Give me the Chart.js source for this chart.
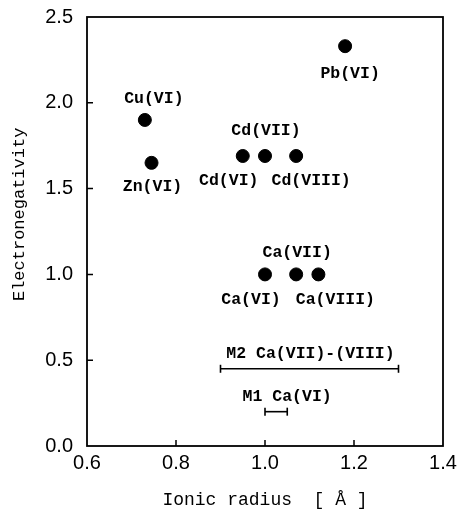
<!DOCTYPE html>
<html lang="en">
    <head>
        <meta charset="UTF-8" />
        <title>Electronegativity vs ionic radius</title>
        <script src="https://cdn.jsdelivr.net/npm/chart.js"></script>
        <style>
            html, body { margin: 0; padding: 0; background: #fff; }
            #wrap { width: 460px; height: 517px; }
        </style>
    </head>
    <body>
        <div id="wrap"><canvas id="ionChart"></canvas></div>

        <script>
            // ions: ionic radius (Å) and electronegativity
            const ionNames = ["Cu(VI)", "Zn(VI)", "Pb(VI)", "Cd(VI)", "Cd(VII)", "Cd(VIII)", "Ca(VI)", "Ca(VII)", "Ca(VIII)"];
            const ionRadius = [0.73, 0.745, 1.18, 0.95, 1.0, 1.07, 1.0, 1.07, 1.12];
            const ionElectroneg = [1.90, 1.65, 2.33, 1.69, 1.69, 1.69, 1.0, 1.0, 1.0];

            // site radius ranges
            const siteNames = ["M2 Ca(VII)-(VIII)", "M1 Ca(VI)"];
            const siteFrom = [0.9, 1.0];
            const siteTo = [1.3, 1.05];
            const siteLevel = [0.45, 0.2];

            const xTicks = [0.6, 0.8, 1.0, 1.2, 1.4];
            const yTicks = [0.0, 0.5, 1.0, 1.5, 2.0, 2.5];

            // where each label sits relative to its mark, in px
            const labelOffset = {
                "Cu(VI)": [9, -21],
                "Zn(VI)": [1, 24],
                "Pb(VI)": [5, 28],
                "Cd(VI)": [-14, 25],
                "Cd(VII)": [1, -25],
                "Cd(VIII)": [15, 25],
                "Ca(VI)": [-14, 25],
                "Ca(VII)": [1, -22],
                "Ca(VIII)": [17, 25],
                "M2 Ca(VII)-(VIII)": [1, -15],
                "M1 Ca(VI)": [11, -15],
            };

            const labelFont = "bold 16.5px 'Liberation Mono', monospace";
            const titleFamily = "'Liberation Mono', monospace";
            const tickFamily = "'Liberation Sans', Arial, sans-serif";

            const points = ionRadius.map((r, i) => ({ x: r, y: ionElectroneg[i] }));

            const siteSets = siteNames.map((name, i) => ({
                type: "line",
                label: name,
                data: [
                    { x: siteFrom[i], y: siteLevel[i] },
                    { x: siteTo[i], y: siteLevel[i] },
                ],
                borderColor: "#000",
                borderWidth: 1.6,
                pointStyle: "line",
                rotation: 90,
                pointRadius: 4,
                pointBorderColor: "#000",
                pointBorderWidth: 1.6,
                showLine: true,
            }));

            // frame, inward ticks, y title and text labels
            const framePlugin = {
                id: "frame",
                afterDatasetsDraw(chart) {
                    const { ctx, chartArea: a, scales } = chart;
                    ctx.save();
                    ctx.strokeStyle = "#000";
                    ctx.lineWidth = 1.8;
                    ctx.strokeRect(a.left, a.top, a.right - a.left, a.bottom - a.top);

                    ctx.lineWidth = 1.5;
                    ctx.beginPath();
                    xTicks.slice(1, -1).forEach((v) => {
                        const px = scales.x.getPixelForValue(v);
                        ctx.moveTo(px, a.bottom);
                        ctx.lineTo(px, a.bottom - 6);
                    });
                    yTicks.slice(1, -1).forEach((v) => {
                        const py = scales.y.getPixelForValue(v);
                        ctx.moveTo(a.left, py);
                        ctx.lineTo(a.left + 6, py);
                    });
                    ctx.stroke();

                    ctx.fillStyle = "#000";
                    ctx.font = labelFont;
                    ctx.textAlign = "center";
                    ctx.textBaseline = "middle";
                    ionNames.forEach((name, i) => {
                        const off = labelOffset[name];
                        const px = scales.x.getPixelForValue(ionRadius[i]);
                        const py = scales.y.getPixelForValue(ionElectroneg[i]);
                        ctx.fillText(name, px + off[0], py + off[1]);
                    });
                    siteNames.forEach((name, i) => {
                        const off = labelOffset[name];
                        const px = scales.x.getPixelForValue((siteFrom[i] + siteTo[i]) / 2);
                        const py = scales.y.getPixelForValue(siteLevel[i]);
                        ctx.fillText(name, px + off[0], py + off[1]);
                    });

                    // y axis title, set a little above the middle as in the original
                    ctx.font = "17px " + titleFamily;
                    ctx.translate(19, scales.y.getPixelForValue(1.35));
                    ctx.rotate(-Math.PI / 2);
                    ctx.fillText("Electronegativity", 0, 0);
                    ctx.restore();
                },
            };

            new Chart(document.getElementById("ionChart"), {
                type: "scatter",
                data: {
                    datasets: [
                        {
                            label: "ions",
                            data: points,
                            backgroundColor: "#000",
                            borderColor: "#000",
                            pointRadius: 6.5,
                            pointHoverRadius: 6.5,
                        },
                        ...siteSets,
                    ],
                },
                options: {
                    responsive: true,
                    maintainAspectRatio: false,
                    animation: false,
                    events: [],
                    layout: { padding: { top: 17, right: 17, left: 0, bottom: 0 } },
                    plugins: {
                        legend: { display: false },
                        tooltip: { enabled: false },
                    },
                    scales: {
                        x: {
                            type: "linear",
                            min: 0.6,
                            max: 1.4,
                            afterFit: (s) => {
                                s.height = 71;
                                s.paddingLeft = 0;
                                s.paddingRight = 0;
                            },
                            afterBuildTicks: (s) => { s.ticks = xTicks.map((v) => ({ value: v })); },
                            grid: { display: false, drawTicks: false },
                            border: { display: false },
                            ticks: {
                                color: "#000",
                                padding: 5,
                                font: { family: tickFamily, size: 20 },
                                callback: (v) => v.toFixed(1),
                            },
                            title: {
                                display: true,
                                text: "Ionic radius  [ Å ]",
                                color: "#000",
                                font: { family: titleFamily, size: 18 },
                                padding: { top: 0, bottom: 6 },
                            },
                        },
                        y: {
                            type: "linear",
                            min: 0,
                            max: 2.5,
                            afterFit: (s) => {
                                s.width = 87;
                                s.paddingTop = 0;
                                s.paddingBottom = 0;
                            },
                            afterBuildTicks: (s) => { s.ticks = yTicks.map((v) => ({ value: v })); },
                            grid: { display: false, drawTicks: false },
                            border: { display: false },
                            ticks: {
                                color: "#000",
                                padding: 14,
                                font: { family: tickFamily, size: 20 },
                                callback: (v) => v.toFixed(1),
                            },
                        },
                    },
                },
                plugins: [framePlugin],
            });
        </script>
    </body>
</html>
